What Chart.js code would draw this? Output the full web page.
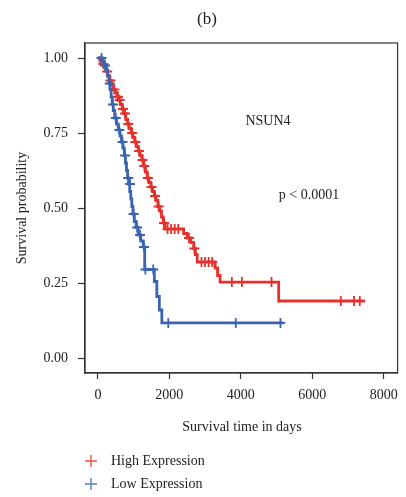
<!DOCTYPE html>
<html>
<head>
<meta charset="utf-8">
<script src="https://cdn.jsdelivr.net/npm/chart.js@4/dist/chart.umd.min.js"></script>
<style>
  body { margin: 0; background: #fff; }
  #km { display: block; }
</style>
</head>
<body>
<canvas id="km" width="406" height="497"></canvas>
<script>
// Kaplan-Meier steps (days, survival)
const highT = [0, 60, 120, 180, 230, 280, 330, 380, 430, 480, 530, 580, 630, 680, 730, 780, 830, 880, 930, 980,
    1030, 1080, 1130, 1180, 1230, 1280, 1330, 1380, 1430, 1480, 1530, 1580, 1630, 1680, 1730, 1780, 1830, 1880,
    2400, 2500, 2600, 2680, 2730, 2780, 3280, 3350, 3420, 5060, 7470];
const highS = [1.0, 0.99, 0.98, 0.97, 0.955, 0.94, 0.925, 0.91, 0.895, 0.885, 0.87, 0.86, 0.845, 0.83, 0.815, 0.795, 0.78, 0.765, 0.75, 0.735,
    0.72, 0.705, 0.69, 0.675, 0.66, 0.64, 0.62, 0.6, 0.585, 0.57, 0.555, 0.54, 0.525, 0.505, 0.49, 0.47, 0.45, 0.43,
    0.415, 0.4, 0.385, 0.365, 0.345, 0.32, 0.3, 0.275, 0.253, 0.19, 0.19];

const lowT = [0, 130, 180, 230, 270, 310, 340, 370, 400, 430, 470, 520, 570, 620, 660, 700, 740, 770, 800, 830,
    860, 890, 920, 950, 980, 1020, 1070, 1130, 1200, 1270, 1310, 1580, 1650, 1720, 1790, 5190];
const lowS = [1.0, 0.99, 0.975, 0.96, 0.94, 0.915, 0.895, 0.87, 0.845, 0.825, 0.8, 0.78, 0.76, 0.74, 0.72, 0.7, 0.675, 0.65, 0.625, 0.6,
    0.58, 0.555, 0.53, 0.505, 0.48, 0.455, 0.435, 0.41, 0.39, 0.37, 0.295, 0.255, 0.205, 0.16, 0.117, 0.117];

// censored observations (+ marks)
const highCensT = [150, 260, 350, 460, 560, 610, 700, 760, 850, 960, 1050, 1150, 1250, 1300, 1400, 1500, 1600, 1700,
    1850, 1950, 2050, 2150, 2250, 2550, 2700, 2900, 3000, 3100, 3200, 3750, 4030, 4860, 6800, 7170, 7330];
const highCensS = [0.98, 0.955, 0.925, 0.895, 0.87, 0.86, 0.83, 0.815, 0.78, 0.75, 0.72, 0.69, 0.66, 0.64, 0.6, 0.57, 0.54, 0.505,
    0.45, 0.43, 0.43, 0.43, 0.43, 0.4, 0.365, 0.32, 0.32, 0.32, 0.32, 0.253, 0.253, 0.253, 0.19, 0.19, 0.19];

const lowCensT = [100, 200, 330, 420, 500, 600, 690, 760, 850, 900, 1000, 1100, 1180, 1290, 1330, 1550, 1970, 3860, 5110];
const lowCensS = [1.0, 0.975, 0.915, 0.845, 0.8, 0.76, 0.72, 0.675, 0.6, 0.58, 0.48, 0.435, 0.41, 0.37, 0.295, 0.295, 0.117, 0.117, 0.117];

const xTicks = [0, 2000, 4000, 6000, 8000];
const yTicks = [0, 0.25, 0.5, 0.75, 1.0];

const red = '#e5312b';
const blue = '#3b64b0';
const serif = "'Liberation Serif', 'Times New Roman', serif";

function pts(t, s) {
    return t.map((v, i) => ({ x: v, y: s[i] }));
}

// frame, titles, annotations and legend
const decor = {
    id: 'decor',
    afterDraw(chart) {
        const ctx = chart.ctx;
        const a = chart.chartArea;
        ctx.save();
        ctx.strokeStyle = '#333';
        ctx.lineWidth = 1.2;
        ctx.strokeRect(a.left, a.top, a.right - a.left, a.bottom - a.top);

        ctx.fillStyle = '#222';
        ctx.textAlign = 'center';
        ctx.textBaseline = 'middle';
        ctx.font = '17px ' + serif;
        ctx.fillText('(b)', 207, 20);

        ctx.font = '14px ' + serif;
        ctx.fillText('Survival time in days', 242, 427);
        ctx.fillText('NSUN4', 268, 121);
        ctx.fillText('p < 0.0001', 309, 195);

        ctx.save();
        ctx.translate(22, 208);
        ctx.rotate(-Math.PI / 2);
        ctx.fillText('Survival probability', 0, 0);
        ctx.restore();

        const items = [['High Expression', '#f0504a', 461], ['Low Expression', '#5a7fc0', 484]];
        items.forEach(([label, col, y]) => {
            ctx.strokeStyle = col;
            ctx.lineWidth = 1.4;
            ctx.beginPath();
            ctx.moveTo(85, y); ctx.lineTo(97, y);
            ctx.moveTo(91, y - 6); ctx.lineTo(91, y + 6);
            ctx.stroke();
            ctx.fillStyle = '#222';
            ctx.textAlign = 'left';
            ctx.fillText(label, 111, y);
        });
        ctx.restore();
    }
};

new Chart(document.getElementById('km'), {
    type: 'line',
    data: {
        datasets: [
            { type: 'scatter', data: pts(lowCensT, lowCensS), pointStyle: 'cross', pointRadius: 5,
              borderColor: blue, backgroundColor: blue, borderWidth: 1.8, showLine: false },
            { data: pts(lowT, lowS), stepped: true, borderColor: blue, borderWidth: 2.8,
              pointRadius: 0, fill: false },
            { type: 'scatter', data: pts(highCensT, highCensS), pointStyle: 'cross', pointRadius: 5,
              borderColor: red, backgroundColor: red, borderWidth: 1.8, showLine: false },
            { data: pts(highT, highS), stepped: true, borderColor: red, borderWidth: 2.8,
              pointRadius: 0, fill: false }
        ]
    },
    options: {
        responsive: false,
        animation: false,
        layout: { padding: { top: 43, right: 6, left: 0, bottom: 0 } },
        plugins: { legend: { display: false }, tooltip: { enabled: false } },
        scales: {
            x: {
                type: 'linear',
                min: -361,
                max: 8389,
                grid: { drawOnChartArea: false, tickLength: 6, color: '#333', tickWidth: 1.2 },
                border: { color: '#333', width: 1.2 },
                ticks: { font: { family: serif, size: 14 }, color: '#222', padding: 8, maxRotation: 0,
                         callback: v => String(v) },
                afterBuildTicks: s => { s.ticks = xTicks.map(v => ({ value: v })); },
                afterFit: s => { s.height = 124; }
            },
            y: {
                min: -0.05,
                max: 1.05,
                grid: { drawOnChartArea: false, tickLength: 7, color: '#333', tickWidth: 1.2 },
                border: { color: '#333', width: 1.2 },
                ticks: { font: { family: serif, size: 14 }, color: '#222', padding: 10,
                         callback: v => v.toFixed(2) },
                afterBuildTicks: s => { s.ticks = yTicks.map(v => ({ value: v })); },
                afterFit: s => { s.width = 85; }
            }
        }
    },
    plugins: [decor]
});
</script>
</body>
</html>
